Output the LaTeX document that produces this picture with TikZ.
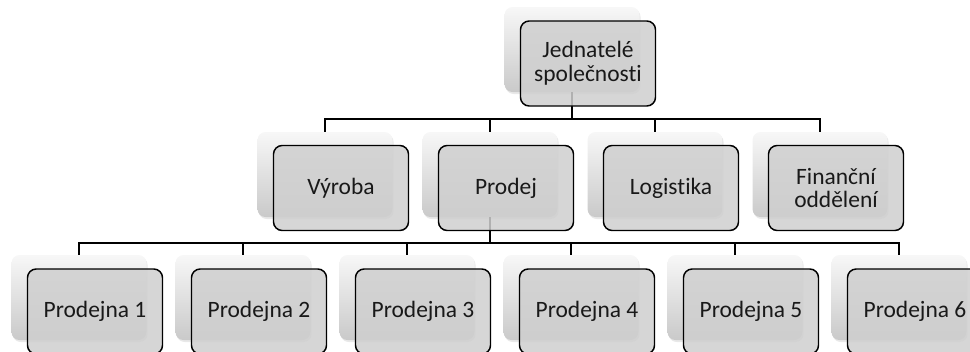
\documentclass[tikz,border=0pt]{standalone}
\usepackage{fontspec}
\setmainfont[Ligatures=NoCommon]{Carlito}
\usetikzlibrary{shadows}

\tikzset{
  backbox/.style={minimum width=101.25pt, minimum height=63.75pt, inner sep=0pt,
    rounded corners=6pt, top color=black!3, bottom color=black!21,
    drop shadow={shadow xshift=0.8pt, shadow yshift=-1.5pt, opacity=0.18}},
  frontbox/.style={draw, line width=1.1pt, rounded corners=6.5pt, fill=black!19,
    fill opacity=0.85, text opacity=1, text=black!90, minimum width=101.25pt,
    minimum height=63.75pt, inner sep=0pt, align=center,
    font=\fontsize{17.6}{17.8}\selectfont},
  link/.style={line width=1.1pt}
}

\begin{document}
\begin{tikzpicture}[x=0.75pt, y=-0.75pt]
            \useasboundingbox (0,0) rectangle (970,351);
            \clip (0,0) rectangle (970,351);

            % back boxes
            \node[backbox] (jed-b) at (572,49.5) {};
            \node[backbox] (vyr-b) at (325,174.5) {};
            \node[backbox] (pro-b) at (490,174.5) {};
            \node[backbox] (log-b) at (655,174.5) {};
            \node[backbox] (fin-b) at (820,174.5) {};
            \node[backbox] (p1-b) at (79,297.5) {};
            \node[backbox] (p2-b) at (243,297.5) {};
            \node[backbox] (p3-b) at (407,297.5) {};
            \node[backbox] (p4-b) at (571,297.5) {};
            \node[backbox] (p5-b) at (735,297.5) {};
            \node[backbox] (p6-b) at (899,297.5) {};

            % connectors
            \coordinate (bus1) at (0,119);
            \coordinate (bus2) at (0,243);
            \draw[link] (jed-b.south) |- (bus1 -| vyr-b) -- (vyr-b.north);
            \draw[link] (jed-b.south) |- (bus1 -| pro-b) -- (pro-b.north);
            \draw[link] (jed-b.south) |- (bus1 -| log-b) -- (log-b.north);
            \draw[link] (jed-b.south) |- (bus1 -| fin-b) -- (fin-b.north);
            \draw[link] (pro-b.south) |- (bus2 -| p1-b) -- (p1-b.north);
            \draw[link] (pro-b.south) |- (bus2 -| p2-b) -- (p2-b.north);
            \draw[link] (pro-b.south) |- (bus2 -| p3-b) -- (p3-b.north);
            \draw[link] (pro-b.south) |- (bus2 -| p4-b) -- (p4-b.north);
            \draw[link] (pro-b.south) |- (bus2 -| p5-b) -- (p5-b.north);
            \draw[link] (pro-b.south) |- (bus2 -| p6-b) -- (p6-b.north);

            % front boxes
            \node[frontbox] (jed) at (588,63.5) {Jednatelé\\společnosti};
            \node[frontbox] (vyr) at (341,188) {Výroba};
            \node[frontbox] (pro) at (506,188) {Prodej};
            \node[frontbox] (log) at (671,188) {Logistika};
            \node[frontbox] (fin) at (836,188) {Finanční\\oddělení};
            \node[frontbox] (p1) at (95,311.5) {Prodejna 1};
            \node[frontbox] (p2) at (259,311.5) {Prodejna 2};
            \node[frontbox] (p3) at (423,311.5) {Prodejna 3};
            \node[frontbox] (p4) at (587,311.5) {Prodejna 4};
            \node[frontbox] (p5) at (751,311.5) {Prodejna 5};
            \node[frontbox] (p6) at (915,311.5) {Prodejna 6};
\end{tikzpicture}
\end{document}
